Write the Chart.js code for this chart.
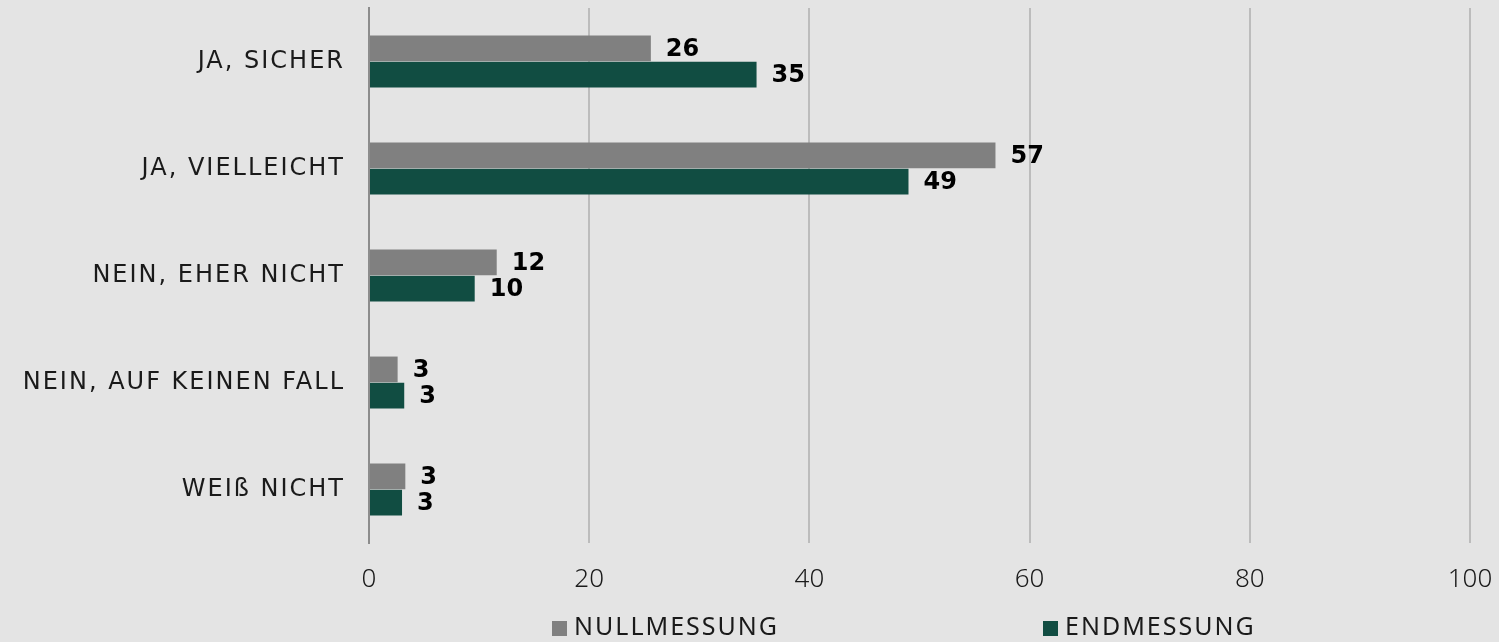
<!DOCTYPE html>
<html>
<head>
<meta charset="utf-8">
<script src="https://cdn.jsdelivr.net/npm/chart.js@4/dist/chart.umd.min.js"></script>
<style>
  html, body { margin: 0; padding: 0; background: #e4e4e4; }
  #wrap { width: 1499px; height: 642px; position: relative; }
</style>
</head>
<body>
<div id="wrap"><canvas id="chart" width="1499" height="642"></canvas></div>
<script>
// categories and values
var categories = ['JA, SICHER', 'JA, VIELLEICHT', 'NEIN, EHER NICHT', 'NEIN, AUF KEINEN FALL', 'WEIß NICHT'];
var nullValues = [25.6, 56.9, 11.6, 2.6, 3.3];
var endValues = [35.2, 49.0, 9.6, 3.2, 3.0];
var nullLabels = ['26', '57', '12', '3', '3'];
var endLabels = ['35', '49', '10', '3', '3'];
var seriesNames = ['NULLMESSUNG', 'ENDMESSUNG'];
var xTicks = [0, 20, 40, 60, 80, 100];

var colours = {
    bg: '#e4e4e4',
    grey: '#808080',
    green: '#114d42',
    grid: '#bcbcbc',
    axis: '#8c8c8c'
};

// background fill
var bgPlugin = {
    id: 'bg',
    beforeDraw: function (chart) {
        var ctx = chart.ctx;
        ctx.save();
        ctx.fillStyle = colours.bg;
        ctx.fillRect(0, 0, chart.width, chart.height);
        ctx.restore();
    }
};

// value labels at the end of each bar
var valueLabels = {
    id: 'valueLabels',
    afterDatasetsDraw: function (chart) {
        var ctx = chart.ctx;
        var texts = [nullLabels, endLabels];
        ctx.save();
        ctx.font = 'bold 24px "DejaVu Sans"';
        ctx.fillStyle = '#000';
        ctx.textAlign = 'left';
        ctx.textBaseline = 'middle';
        chart.data.datasets.forEach(function (ds, d) {
            chart.getDatasetMeta(d).data.forEach(function (bar, i) {
                ctx.fillText(texts[d][i], bar.x + 15, bar.y + 1);
            });
        });
        ctx.restore();
    }
};

// legend drawn under the axis
var bottomLegend = {
    id: 'bottomLegend',
    afterDraw: function (chart) {
        var ctx = chart.ctx;
        var starts = [552, 1043];
        ctx.save();
        ctx.font = '25px "Noto Sans"';
        ctx.letterSpacing = '2px';
        ctx.textBaseline = 'middle';
        ctx.textAlign = 'left';
        chart.data.datasets.forEach(function (ds, d) {
            ctx.fillStyle = ds.backgroundColor;
            ctx.fillRect(starts[d], 621, 15, 15);
            ctx.fillStyle = '#1a1a1a';
            ctx.fillText(ds.label, starts[d] + 22, 628);
        });
        ctx.restore();
    }
};

// drop the extra room chart.js keeps for the end tick labels
function noEdgePadding(s) {
    s.paddingTop = 0;
    s.paddingBottom = 0;
    s.paddingLeft = 0;
    s.paddingRight = 0;
}

// wider letter spacing for a scale's labels (the original font is wide)
function spaceLabels(s, spacing) {
    if (s._spaced) return;
    var orig = s.drawLabels;
    s.drawLabels = function (area) {
        var c = this.ctx;
        var old = c.letterSpacing;
        c.letterSpacing = spacing;
        orig.call(this, area);
        c.letterSpacing = old;
    };
    s._spaced = true;
}

var ctx = document.getElementById('chart').getContext('2d');
var myChart = new Chart(ctx, {
    type: 'bar',
    data: {
        labels: categories,
        datasets: [{
            label: seriesNames[0],
            data: nullValues,
            backgroundColor: colours.grey
        }, {
            label: seriesNames[1],
            data: endValues,
            backgroundColor: colours.green
        }]
    },
    options: {
        indexAxis: 'y',
        responsive: false,
        animation: false,
        layout: { padding: { top: 8, right: 29, bottom: 50, left: 0 } },
        datasets: {
            bar: { categoryPercentage: 0.49, barPercentage: 0.98 }
        },
        plugins: {
            legend: { display: false },
            tooltip: { enabled: false }
        },
        scales: {
            x: {
                min: 0,
                max: 100,
                afterBuildTicks: function (s) {
                    s.ticks = xTicks.map(function (v) { return { value: v }; });
                },
                afterFit: function (s) { s.height = 49; noEdgePadding(s); },
                grid: { color: colours.grid, lineWidth: 2, drawTicks: false },
                border: { display: false },
                ticks: {
                    padding: 21,
                    color: '#1a1a1a',
                    font: { family: 'Noto Sans', size: 26, weight: '300' }
                }
            },
            y: {
                afterFit: function (s) { s.width = 369; noEdgePadding(s); spaceLabels(s, '2px'); },
                grid: { display: false, drawTicks: false },
                border: { display: true, color: colours.axis, width: 2 },
                ticks: {
                    padding: 24,
                    color: '#1a1a1a',
                    font: { family: '"DejaVu Sans"', size: 24, weight: 'normal' }
                }
            }
        }
    },
    plugins: [bgPlugin, valueLabels, bottomLegend]
});
</script>
</body>
</html>
